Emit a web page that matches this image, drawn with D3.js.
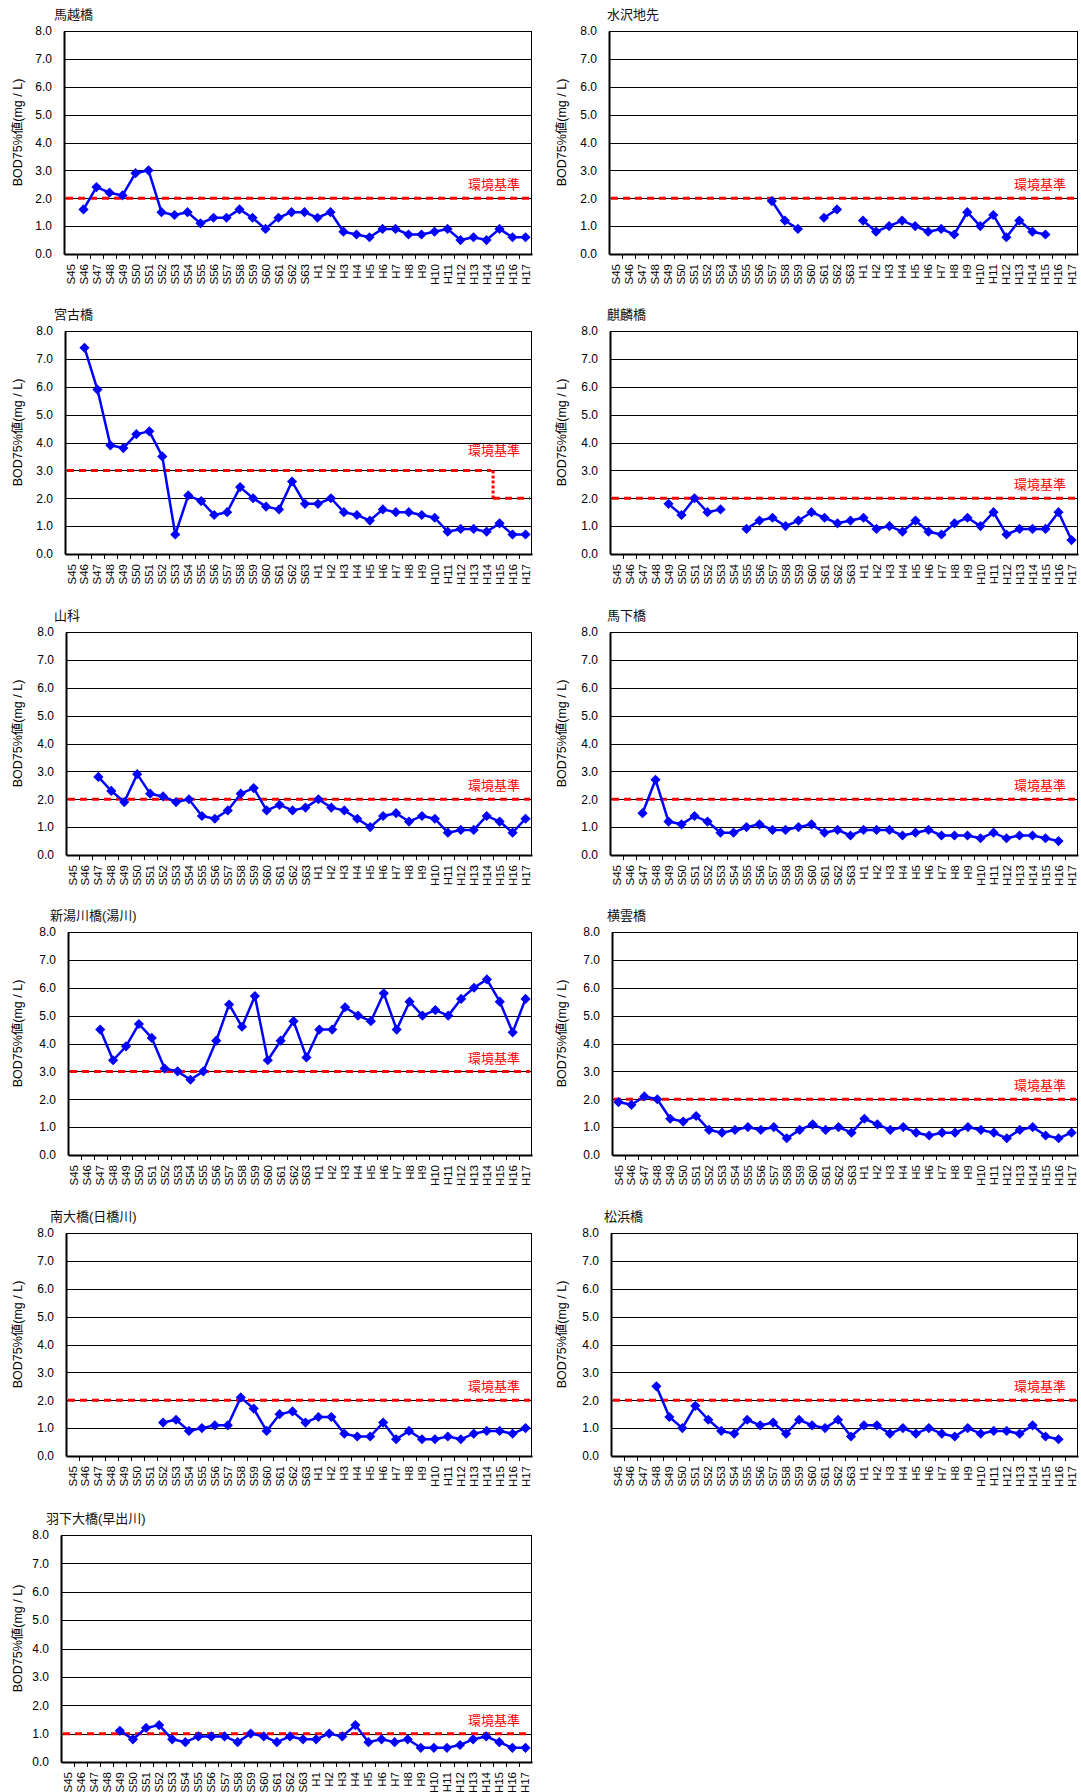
<!DOCTYPE html>
<html>
<head>
<meta charset="utf-8">
<script src="https://cdn.jsdelivr.net/npm/d3@7"></script>
<style>
  html, body { margin: 0; padding: 0; background: #fff; }
  svg { display: block; font-family: "Liberation Sans", Arial, "Noto Sans CJK JP", sans-serif; }
</style>
</head>
<body>
<svg id="chart" width="1081" height="1792"></svg>
<script>
// Fiscal years on the category axis (Showa 45 – Heisei 17)
const years = ["S45","S46","S47","S48","S49","S50","S51","S52","S53","S54","S55","S56","S57","S58","S59","S60","S61","S62","S63",
               "H1","H2","H3","H4","H5","H6","H7","H8","H9","H10","H11","H12","H13","H14","H15","H16","H17"];

// Value axis ticks (mg/L)
const yTicks = [0, 1, 2, 3, 4, 5, 6, 7, 8];

// Station names
const stations = ["馬越橋", "水沢地先", "宮古橋", "麒麟橋", "山科", "馬下橋",
                  "新湯川橋(湯川)", "横雲橋", "南大橋(日橋川)", "松浜橋", "羽下大橋(早出川)"];

// BOD 75% values per station, one value per fiscal year (null = not measured)
const umagoshi   = [null,1.6,2.4,2.2,2.1,2.9,3.0,1.5,1.4,1.5,1.1,1.3,1.3,1.6,1.3,0.9,1.3,1.5,1.5,
                    1.3,1.5,0.8,0.7,0.6,0.9,0.9,0.7,0.7,0.8,0.9,0.5,0.6,0.5,0.9,0.6,0.6];
const mizusawa   = [null,null,null,null,null,null,null,null,null,null,null,null,1.9,1.2,0.9,null,1.3,1.6,null,
                    1.2,0.8,1.0,1.2,1.0,0.8,0.9,0.7,1.5,1.0,1.4,0.6,1.2,0.8,0.7,null,null];
const miyako     = [null,7.4,5.9,3.9,3.8,4.3,4.4,3.5,0.7,2.1,1.9,1.4,1.5,2.4,2.0,1.7,1.6,2.6,1.8,
                    1.8,2.0,1.5,1.4,1.2,1.6,1.5,1.5,1.4,1.3,0.8,0.9,0.9,0.8,1.1,0.7,0.7];
const kirin      = [null,null,null,null,1.8,1.4,2.0,1.5,1.6,null,0.9,1.2,1.3,1.0,1.2,1.5,1.3,1.1,1.2,
                    1.3,0.9,1.0,0.8,1.2,0.8,0.7,1.1,1.3,1.0,1.5,0.7,0.9,0.9,0.9,1.5,0.5];
const yamashina  = [null,null,2.8,2.3,1.9,2.9,2.2,2.1,1.9,2.0,1.4,1.3,1.6,2.2,2.4,1.6,1.8,1.6,1.7,
                    2.0,1.7,1.6,1.3,1.0,1.4,1.5,1.2,1.4,1.3,0.8,0.9,0.9,1.4,1.2,0.8,1.3];
const mashimo    = [null,null,1.5,2.7,1.2,1.1,1.4,1.2,0.8,0.8,1.0,1.1,0.9,0.9,1.0,1.1,0.8,0.9,0.7,
                    0.9,0.9,0.9,0.7,0.8,0.9,0.7,0.7,0.7,0.6,0.8,0.6,0.7,0.7,0.6,0.5,null];
const shinyukawa = [null,null,4.5,3.4,3.9,4.7,4.2,3.1,3.0,2.7,3.0,4.1,5.4,4.6,5.7,3.4,4.1,4.8,3.5,
                    4.5,4.5,5.3,5.0,4.8,5.8,4.5,5.5,5.0,5.2,5.0,5.6,6.0,6.3,5.5,4.4,5.6];
const yokogumo   = [1.9,1.8,2.1,2.0,1.3,1.2,1.4,0.9,0.8,0.9,1.0,0.9,1.0,0.6,0.9,1.1,0.9,1.0,0.8,
                    1.3,1.1,0.9,1.0,0.8,0.7,0.8,0.8,1.0,0.9,0.8,0.6,0.9,1.0,0.7,0.6,0.8];
const minami     = [null,null,null,null,null,null,null,1.2,1.3,0.9,1.0,1.1,1.1,2.1,1.7,0.9,1.5,1.6,1.2,
                    1.4,1.4,0.8,0.7,0.7,1.2,0.6,0.9,0.6,0.6,0.7,0.6,0.8,0.9,0.9,0.8,1.0];
const matsuhama  = [null,null,null,2.5,1.4,1.0,1.8,1.3,0.9,0.8,1.3,1.1,1.2,0.8,1.3,1.1,1.0,1.3,0.7,
                    1.1,1.1,0.8,1.0,0.8,1.0,0.8,0.7,1.0,0.8,0.9,0.9,0.8,1.1,0.7,0.6,null];
const hanoshita  = [null,null,null,null,1.1,0.8,1.2,1.3,0.8,0.7,0.9,0.9,0.9,0.7,1.0,0.9,0.7,0.9,0.8,
                    0.8,1.0,0.9,1.3,0.7,0.8,0.7,0.8,0.5,0.5,0.5,0.6,0.8,0.9,0.7,0.5,0.5];

// Environmental quality standard for each station: [first year, last year, value]
const stdUmagoshi   = [["S45","H17",2]];
const stdMizusawa   = [["S45","H17",2]];
const stdMiyako     = [["S45","H14",3], ["H15","H17",2]];
const stdKirin      = [["S45","H17",2]];
const stdYamashina  = [["S45","H17",2]];
const stdMashimo    = [["S45","H17",2]];
const stdShinyukawa = [["S45","H17",3]];
const stdYokogumo   = [["S45","H17",2]];
const stdMinami     = [["S45","H17",2]];
const stdMatsuhama  = [["S45","H17",2]];
const stdHanoshita  = [["S45","H17",1]];

const stdLabel = "環境基準";
const yTitle = "BOD75%値(mg / L)";

const seriesList = [umagoshi, mizusawa, miyako, kirin, yamashina, mashimo,
                    shinyukawa, yokogumo, minami, matsuhama, hanoshita];
const stdList = [stdUmagoshi, stdMizusawa, stdMiyako, stdKirin, stdYamashina, stdMashimo,
                 stdShinyukawa, stdYokogumo, stdMinami, stdMatsuhama, stdHanoshita];

// Panel placement (plot box in page pixels)
const rowTops = [31, 331, 632, 932, 1233, 1535];
const layout = [
  { col: 0, row: 0, left: 64,  titleX: 54,  labelRise: 9 },
  { col: 1, row: 0, left: 609, titleX: 607, labelRise: 9 },
  { col: 0, row: 1, left: 65,  titleX: 54,  labelRise: 15 },
  { col: 1, row: 1, left: 610, titleX: 607, labelRise: 9 },
  { col: 0, row: 2, left: 66,  titleX: 54,  labelRise: 9 },
  { col: 1, row: 2, left: 610, titleX: 607, labelRise: 9 },
  { col: 0, row: 3, left: 68,  titleX: 50,  labelRise: 8 },
  { col: 1, row: 3, left: 612, titleX: 607, labelRise: 9 },
  { col: 0, row: 4, left: 66,  titleX: 50,  labelRise: 9 },
  { col: 1, row: 4, left: 611, titleX: 604, labelRise: 9 },
  { col: 0, row: 5, left: 61,  titleX: 46,  labelRise: 9, height: 227 }
];
const colRight = [532, 1078];
const plotH = 223;

const svg = d3.select("#chart");

stations.forEach((name, i) => {
  const L = layout[i];
  const data = seriesList[i];
  const w = colRight[L.col] - L.left;
  const h = L.height || plotH;
  const top = rowTops[L.row];

  const g = svg.append("g").attr("transform", `translate(${L.left},${top})`);

  const x = d3.scaleBand().domain(years).range([0, w]);
  const y = d3.scaleLinear().domain([0, 8]).range([h, 0]);

  // station title
  svg.append("text")
    .attr("x", L.titleX).attr("y", top - 12)
    .attr("font-size", 13).attr("fill", "#111")
    .text(name);

  // horizontal gridlines
  g.append("g").selectAll("line")
    .data(yTicks.filter(t => t > 0))
    .join("line")
    .attr("x1", 0).attr("x2", w)
    .attr("y1", d => Math.round(y(d)) + 0.5).attr("y2", d => Math.round(y(d)) + 0.5)
    .attr("stroke", "#000").attr("stroke-width", 1);

  // right border
  g.append("line")
    .attr("x1", w - 0.5).attr("x2", w - 0.5).attr("y1", y(8)).attr("y2", h)
    .attr("stroke", "#000").attr("stroke-width", 1);

  // value axis
  const yAxis = g.append("g")
    .call(d3.axisLeft(y).tickValues(yTicks).tickFormat(d3.format(".1f")).tickSize(0).tickPadding(12));
  yAxis.select(".domain").attr("stroke", "#000").attr("stroke-width", 2);
  yAxis.selectAll("text").attr("font-size", 12).attr("fill", "#000")
    .attr("font-family", "'Liberation Sans', Arial, sans-serif");

  // category axis with rotated labels
  const xAxis = g.append("g").attr("transform", `translate(0,${h})`)
    .call(d3.axisBottom(x).tickSize(0).tickPadding(0));
  xAxis.select(".domain").attr("stroke", "#000").attr("stroke-width", 2);
  xAxis.selectAll(".tick text")
    .attr("transform", "rotate(-90)")
    .attr("text-anchor", "end")
    .attr("x", -10).attr("y", 0).attr("dy", "0.35em")
    .attr("font-size", 11.5).attr("fill", "#000")
    .attr("font-family", "'Liberation Sans', Arial, sans-serif");

  // tick marks between categories
  g.append("g").selectAll("line")
    .data(years.slice(1))
    .join("line")
    .attr("x1", d => Math.round(x(d)) + 0.5).attr("x2", d => Math.round(x(d)) + 0.5)
    .attr("y1", h).attr("y2", h + 5)
    .attr("stroke", "#000").attr("stroke-width", 1);

  // environmental standard (red dashed), with dotted riser where it changes
  const std = stdList[i];
  std.forEach((seg, k) => {
    const x0 = x(seg[0]);
    const x1 = x(seg[1]) + x.bandwidth();
    g.append("line")
      .attr("x1", k === 0 ? 2 : x0).attr("x2", x1 - 2)
      .attr("y1", y(seg[2])).attr("y2", y(seg[2]))
      .attr("stroke", "#ff0000").attr("stroke-width", 3)
      .attr("stroke-dasharray", "7,5");
    if (k > 0) {
      const prev = std[k - 1];
      g.append("line")
        .attr("x1", x0).attr("x2", x0)
        .attr("y1", y(prev[2])).attr("y2", y(seg[2]))
        .attr("stroke", "#ff0000").attr("stroke-width", 3)
        .attr("stroke-dasharray", "3,2");
    }
  });
  g.append("text")
    .attr("x", w - 12).attr("y", y(d3.max(std, s => s[2])) - L.labelRise)
    .attr("text-anchor", "end")
    .attr("font-size", 13).attr("fill", "#ff0000")
    .attr("font-family", "'Noto Sans CJK JP', sans-serif")
    .text(stdLabel);

  // data line and diamond markers
  const pts = years.map((yr, j) => ({ yr, v: data[j] }));
  const line = d3.line()
    .defined(d => d.v != null)
    .x(d => x(d.yr) + x.bandwidth() / 2)
    .y(d => y(d.v));
  g.append("path")
    .datum(pts)
    .attr("d", line)
    .attr("fill", "none").attr("stroke", "#0000ff").attr("stroke-width", 2.5)
    .attr("stroke-linejoin", "round");

  const diamond = d3.symbol().type(d3.symbolSquare).size(52);
  g.append("g").selectAll("path")
    .data(pts.filter(d => d.v != null))
    .join("path")
    .attr("d", diamond)
    .attr("transform", d => `translate(${x(d.yr) + x.bandwidth() / 2},${y(d.v)}) rotate(45)`)
    .attr("fill", "#0000ff");

  // value axis title
  const midY = top + h / 2 - 10;
  const tx = L.col === 0 ? 18 : 562;
  svg.append("text")
    .attr("transform", `translate(${tx},${midY}) rotate(-90)`)
    .attr("text-anchor", "middle").attr("dy", "0.35em")
    .attr("font-size", 12.5).attr("fill", "#000")
    .text(yTitle);
});
</script>
</body>
</html>
